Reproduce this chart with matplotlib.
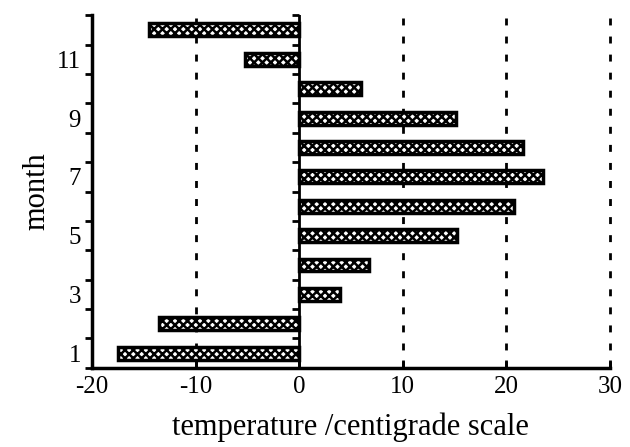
import matplotlib.pyplot as plt
import numpy as np

plt.rc('font', family=['Liberation Serif', 'DejaVu Serif'])
plt.rc('hatch', linewidth=1.8)

months = [1, 2, 3, 4, 5, 6, 7, 8, 9, 10, 11, 12]
temps = [-17.5, -13.5, 3.9, 6.7, 15.2, 20.7, 23.5, 21.6, 15.1, 6.0, -5.2, -14.5]
month_labels = ['1', '3', '5', '7', '9', '11']
x_ticks = [-20, -10, 0, 10, 20, 30]

fig = plt.figure(figsize=(6.3, 4.47), dpi=100)
ax = fig.add_axes([0.146, 0.177, 0.822, 0.789])

ax.barh(months, temps, height=0.44, color='white', edgecolor='black',
        linewidth=2.5, hatch='xxxx', zorder=3)

for xv in [-10, 10, 20, 30]:
    ax.axvline(xv, color='black', ls=(0, (2.5, 4)), lw=2, zorder=1,
               clip_on=False)
ax.axvline(0, color='black', lw=2, zorder=4)

half = np.arange(0.5, 13, 1.0)
ax.plot(np.zeros_like(half), half, ls='', marker=0, ms=5, mew=2,
        color='black', zorder=4, clip_on=False)

ax.set_xlim(-20, 30)
ax.set_ylim(0.5, 12.5)
ax.set_xticks(x_ticks)
ax.set_xticklabels([str(v) for v in x_ticks], fontsize=18)
ax.tick_params(axis='x', direction='in', length=6, width=2, pad=6)

ax.set_yticks(half)
ax.set_yticklabels([])
ax.tick_params(axis='y', which='major', direction='out', length=5, width=2)
ax.set_yticks([1, 3, 5, 7, 9, 11], minor=True)
ax.set_yticklabels(month_labels, minor=True, fontsize=18)
ax.tick_params(axis='y', which='minor', length=0, pad=8)

for s in ['top', 'right']:
    ax.spines[s].set_visible(False)
for s in ['left', 'bottom']:
    ax.spines[s].set_linewidth(2.5)

ax.set_xlabel('temperature /centigrade scale', fontsize=22, labelpad=10)
ax.set_ylabel('month', fontsize=22, labelpad=4)

fig.savefig('out.png', dpi=100)
